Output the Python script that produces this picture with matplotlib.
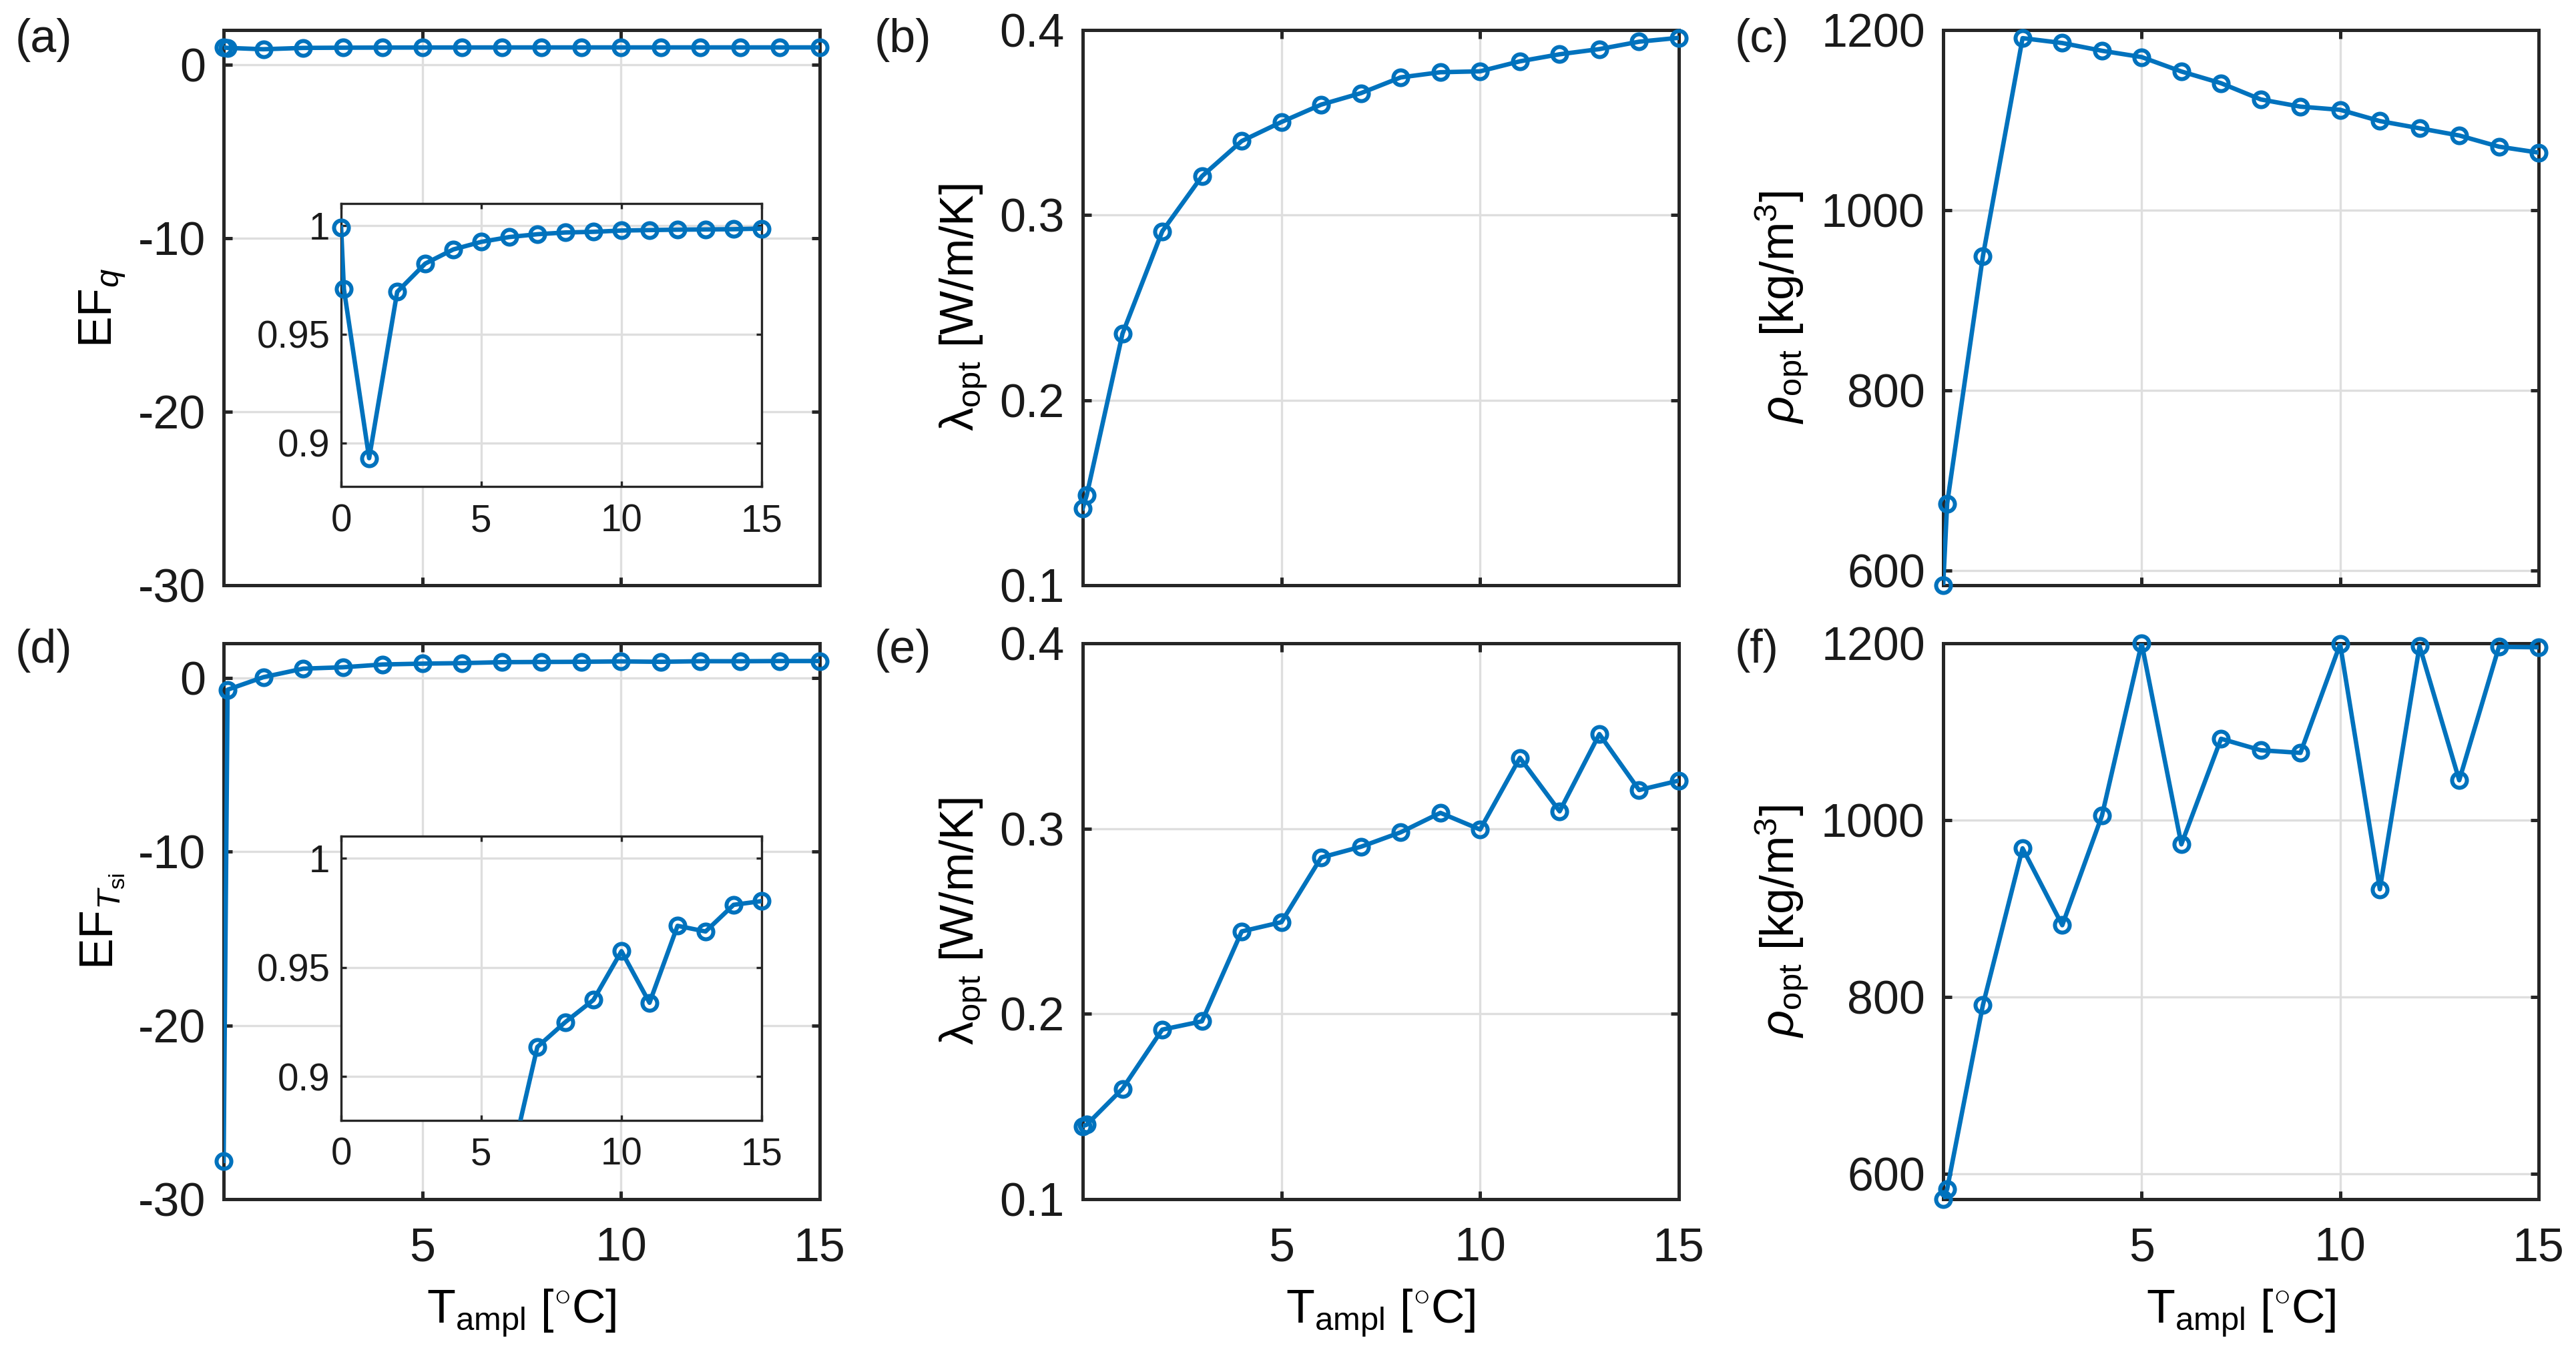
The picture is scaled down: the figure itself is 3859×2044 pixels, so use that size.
import numpy as np
import matplotlib
matplotlib.use("Agg")
import matplotlib.pyplot as plt
from matplotlib.ticker import FuncFormatter

# ---------------- data ----------------
t_ampl = [0, 0.1, 1, 2, 3, 4, 5, 6, 7, 8, 9, 10, 11, 12, 13, 14, 15]

ef_q = [0.999, 0.9707, 0.893, 0.9694, 0.9824, 0.9889, 0.9924, 0.9946, 0.9959,
        0.9967, 0.9970, 0.9976, 0.9978, 0.9980, 0.9981, 0.9982, 0.9985]
lam_q = [0.1416, 0.1486, 0.2359, 0.2912, 0.321, 0.340, 0.3503, 0.3597, 0.3659,
         0.3744, 0.3772, 0.3777, 0.3831, 0.3869, 0.3897, 0.3937, 0.3958]
rho_q = [584, 674.6, 949, 1191, 1185.6, 1177, 1170, 1154, 1141, 1123, 1115,
         1111.5, 1099, 1091, 1083, 1070.6, 1064]

ef_tsi = [-27.8, -0.67, 0.05, 0.54, 0.62, 0.78, 0.83, 0.858, 0.9136, 0.925,
          0.9351, 0.9574, 0.9338, 0.969, 0.9664, 0.9786, 0.9803]
lam_tsi = [0.1394, 0.1402, 0.1596, 0.1915, 0.196, 0.2445, 0.2495, 0.2844, 0.2902,
           0.298, 0.3085, 0.2995, 0.3382, 0.3093, 0.351, 0.3208, 0.3259]
rho_tsi = [571, 582.5, 790.5, 968, 881, 1005, 1200, 972.5, 1092, 1079, 1076,
           1199, 921.7, 1197, 1045, 1196, 1195.5]

panel_labels = ["(a)", "(b)", "(c)", "(d)", "(e)", "(f)"]
xticks_main = [5, 10, 15]
xticks_inset = [0, 5, 10, 15]
yticks_ef = [-30, -20, -10, 0]
yticks_inset = [0.9, 0.95, 1]
yticks_lam = [0.1, 0.2, 0.3, 0.4]
yticks_rho = [600, 800, 1000, 1200]

# ---------------- style ----------------
plt.rcParams.update({
    "font.family": ["Liberation Sans", "DejaVu Sans"],
    "mathtext.fontset": "custom",
    "mathtext.rm": "Liberation Sans",
    "mathtext.it": "Liberation Sans:italic",
    "mathtext.bf": "Liberation Sans:bold",
    "axes.unicode_minus": False,
})

BLUE = "#0072BD"
EDGE = "#262626"
GRID = "#DEDEDE"
FS = 16.8
FS_IN = 13.6

W, H = 3859, 2044
fig = plt.figure(figsize=(W / 300, H / 300), dpi=300)


def px_axes(l, t, r, b):
    return fig.add_axes([l / W, 1 - b / H, (r - l) / W, (b - t) / H])


def style(ax, fs, lw_ax, tlen):
    for s in ax.spines.values():
        s.set_linewidth(lw_ax)
        s.set_color(EDGE)
    ax.tick_params(direction="in", top=True, right=True, length=tlen,
                   width=lw_ax, colors=EDGE, labelsize=fs, labelcolor="#1a1a1a")
    ax.grid(True, color=GRID, linewidth=0.8)
    ax.set_axisbelow(True)


def draw(ax, x, y, ylim, ms=5.3):
    x = np.asarray(x, float)
    y = np.asarray(y, float)
    ax.plot(x, y, color=BLUE, lw=1.6, clip_on=True, zorder=3)
    m = (y >= ylim[0] - 1e-9) & (y <= ylim[1] + 1e-9)
    ax.plot(x[m], y[m], ls="none", marker="o", ms=ms, mew=1.45, mfc="none",
            mec=BLUE, clip_on=False, zorder=4)


gfmt = FuncFormatter(lambda v, p: "{:g}".format(v))

cols_lr = [(335, 1228), (1622, 2515), (2911, 3803)]
rows_tb = [(45, 877), (964, 1797)]

series = [[ef_q, lam_q, rho_q], [ef_tsi, lam_tsi, rho_tsi]]
ylabels = [r"EF$_{\mathit{q}}$", r"λ$_{\rm opt}$ [W/m/K]",
           r"$\mathit{ρ}_{\rm opt}$ [kg/m$^3$]"]
ylabels2 = [r"EF$_{\mathit{T}_{\rm si}}$", r"λ$_{\rm opt}$ [W/m/K]",
            r"$\mathit{ρ}_{\rm opt}$ [kg/m$^3$]"]

label_pos = [(23, 60), (1310, 60), (2599, 60), (23, 975), (1310, 975), (2599, 975)]

for r in range(2):
    for c in range(3):
        l, rr = cols_lr[c]
        t, b = rows_tb[r]
        ax = px_axes(l, t, rr, b)
        style(ax, FS, 1.2, 3.0)
        y = series[r][c]
        if c == 0:
            ylim = (-30, 2)
            yt = yticks_ef
        elif c == 1:
            ylim = (0.1, 0.4)
            yt = yticks_lam
        else:
            ylim = (min(y), 1200)
            yt = yticks_rho
        draw(ax, t_ampl, y, ylim)
        ax.set_xlim(0, 15)
        ax.set_ylim(*ylim)
        ax.set_xticks(xticks_main)
        ax.set_yticks(yt)
        ax.yaxis.set_major_formatter(gfmt)
        ax.tick_params(axis="y", pad=6.5)
        ax.tick_params(axis="x", pad=10)
        if r == 0:
            ax.set_xticklabels([])
            ax.set_ylabel(ylabels[c], fontsize=FS, labelpad=4)
        else:
            ax.set_xlabel(r"T$_{\rm ampl}$ [$^{\circ}$C]", fontsize=FS, labelpad=6)
            ax.set_ylabel(ylabels2[c], fontsize=FS, labelpad=4)

        if c == 0:
            ins_t = 305 if r == 0 else 1253
            ins_b = 729 if r == 0 else 1679
            ia = px_axes(511, ins_t, 1141, ins_b)
            style(ia, FS_IN, 0.8, 2.0)
            draw(ia, t_ampl, y, (0.88, 1.01))
            ia.set_xlim(0, 15)
            ia.set_ylim(0.88, 1.01)
            ia.set_xticks(xticks_inset)
            ia.set_yticks(yticks_inset)
            ia.yaxis.set_major_formatter(gfmt)
            ia.tick_params(axis="y", pad=4)
            ia.tick_params(axis="x", pad=6)
            ia.set_zorder(5)

for lab, (px, py) in zip(panel_labels, label_pos):
    fig.text(px / W, 1 - py / H, lab, fontsize=FS, ha="left", va="center",
             color="#1a1a1a")

fig.savefig("out.png", dpi=300, facecolor="white")
